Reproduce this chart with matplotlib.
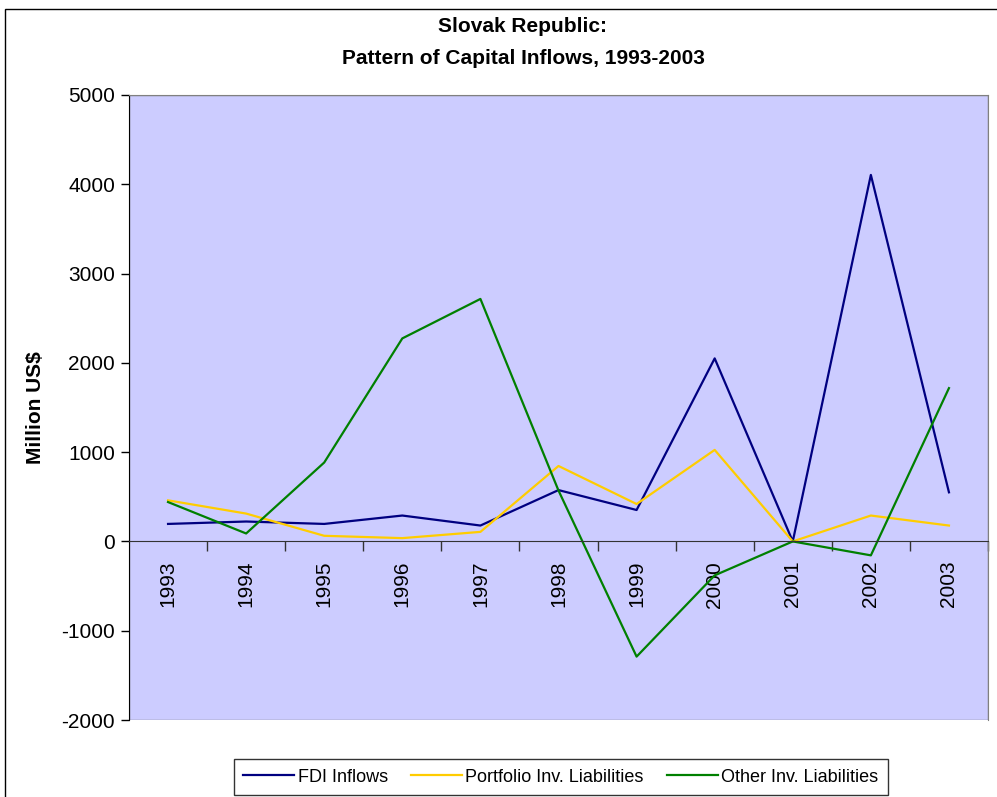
import matplotlib.pyplot as plt
from matplotlib.patches import Rectangle

plt.rcParams['font.family'] = ['Liberation Sans', 'DejaVu Sans']
plt.rcParams['axes.unicode_minus'] = False

years = ['1993', '1994', '1995', '1996', '1997', '1998', '1999', '2000', '2001', '2002', '2003']
fdi = [196, 223, 196, 290, 178, 575, 352, 2050, 0, 4105, 550]
portfolio = [460, 312, 63, 37, 107, 845, 419, 1025, 0, 290, 178]
other = [441, 89, 884, 2274, 2716, 570, -1290, -380, 0, -156, 1717]

fig = plt.figure(figsize=(9.97, 7.97), dpi=100)
ax = fig.add_axes([129 / 997, 1 - 720 / 797, 859 / 997, 625 / 797])
ax.set_facecolor('#CCCCFF')

# move the category axis to zero first (this resets the ticks)
ax.spines['bottom'].set_position(('data', 0))
ax.spines['bottom'].set_color('#333333')
ax.spines['left'].set_color('black')
ax.spines['top'].set_color('#808080')
ax.spines['right'].set_color('#808080')
ax.add_patch(Rectangle((0, 0), 1, 1, transform=ax.transAxes, fill=False,
                       edgecolor='#808080', lw=1, zorder=0.5))

x = list(range(len(years)))
ax.plot(x, fdi, color='#000080', lw=1.6, label='FDI Inflows')
ax.plot(x, portfolio, color='#FFCC00', lw=1.6, label='Portfolio Inv. Liabilities')
ax.plot(x, other, color='#008000', lw=1.6, label='Other Inv. Liabilities')

ax.set_xlim(-0.5, len(years) - 0.5)
ax.set_ylim(-2000, 5000)
ax.set_yticks(range(-2000, 5001, 1000))

# category labels at centres, tick marks at boundaries
ax.set_xticks(x)
ax.set_xticklabels(years, rotation=90, fontsize=15)
ax.set_xticks([i + 0.5 for i in x], minor=True)
ax.tick_params(axis='x', which='major', length=0, pad=14)
ax.tick_params(axis='x', which='minor', length=7, width=1, direction='out', color='#333333')
ax.tick_params(axis='y', length=6, width=1, direction='out', labelsize=15, pad=4)

ax.set_ylabel('Million US$', fontsize=15, fontweight='bold', labelpad=12)

fig.text(523 / 997, 1 - 26 / 797, 'Slovak Republic:', ha='center', va='center',
         fontsize=15, fontweight='bold')
fig.text(523 / 997, 1 - 59 / 797, 'Pattern of Capital Inflows, 1993-2003', ha='center',
         va='center', fontsize=15, fontweight='bold')

# outer chart border
fig.patches.append(Rectangle((5 / 997, -0.02), 1.02, 1 - 9 / 797 + 0.02,
                             transform=fig.transFigure, fill=False,
                             edgecolor='black', lw=1))

leg = fig.legend(loc='center', bbox_to_anchor=(561 / 997, 1 - 777 / 797), ncol=3,
                 fontsize=13, frameon=True, fancybox=False, edgecolor='black',
                 handlelength=2.8, handletextpad=0.2, columnspacing=1.3,
                 borderpad=0.5)
leg.get_frame().set_linewidth(1)

fig.savefig('out.png', dpi=100)
